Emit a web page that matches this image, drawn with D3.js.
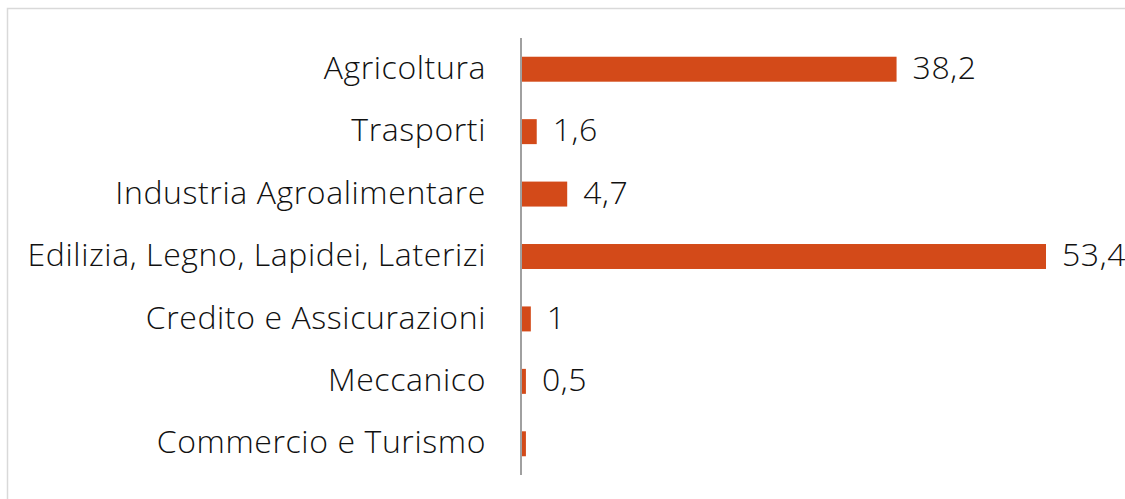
<!DOCTYPE html>
<html>
<head>
<meta charset="utf-8">
<style>
  body { margin: 0; background: #fff; }
  .label { font-family: "Open Sans", sans-serif; font-weight: 300; font-size: 32px; letter-spacing: 0.6px; fill: #111; }
</style>
</head>
<body>
<svg id="chart" width="1125" height="499"></svg>
<script src="https://d3js.org/d3.v7.min.js"></script>
<script>

var categories = ["Agricoltura", "Trasporti", "Industria Agroalimentare",
  "Edilizia, Legno, Lapidei, Laterizi", "Credito e Assicurazioni",
  "Meccanico", "Commercio e Turismo"];
var values = [38.2, 1.6, 4.7, 53.4, 1, 0.5, 0.5];
var valueLabels = ["38,2", "1,6", "4,7", "53,4", "1", "0,5", ""];

var svg = d3.select("#chart");

// chart frame, only top and left edges show in the crop
svg.append("rect")
  .attr("x", 7.5).attr("y", 8.5)
  .attr("width", 1200).attr("height", 600)
  .attr("fill", "none")
  .attr("stroke", "#d9d9d9")
  .attr("stroke-width", 1.5);

var x = d3.scaleLinear().domain([0, 53.4]).range([521, 1046]);
var y = d3.scaleBand().domain(categories).range([38, 475]).paddingInner(0.6).paddingOuter(0.3);

svg.selectAll("rect.bar")
  .data(values)
  .enter().append("rect")
    .attr("class", "bar")
    .attr("x", x(0))
    .attr("y", function(d, i) { return y(categories[i]); })
    .attr("width", function(d) { return x(d) - x(0); })
    .attr("height", y.bandwidth())
    .attr("fill", "#d34a19");

// category axis
var axis = svg.append("g")
  .attr("transform", "translate(" + x(0) + ",0)")
  .call(d3.axisLeft(y).tickSize(0).tickPadding(35));
axis.select(".domain").attr("stroke", "#a0a0a0").attr("stroke-width", 2).attr("d", "M0,38V475");
axis.selectAll("text")
  .attr("class", "label")
  .attr("font-size", null).attr("font-family", null)
  .attr("dy", "0.3em");

svg.selectAll("text.val")
  .data(values)
  .enter().append("text")
    .attr("class", "label val")
    .attr("x", function(d) { return x(d) + 16; })
    .attr("y", function(d, i) { return y(categories[i]) + y.bandwidth() / 2; })
    .attr("dy", "0.3em")
    .text(function(d, i) { return valueLabels[i]; });

</script>
</body>
</html>
